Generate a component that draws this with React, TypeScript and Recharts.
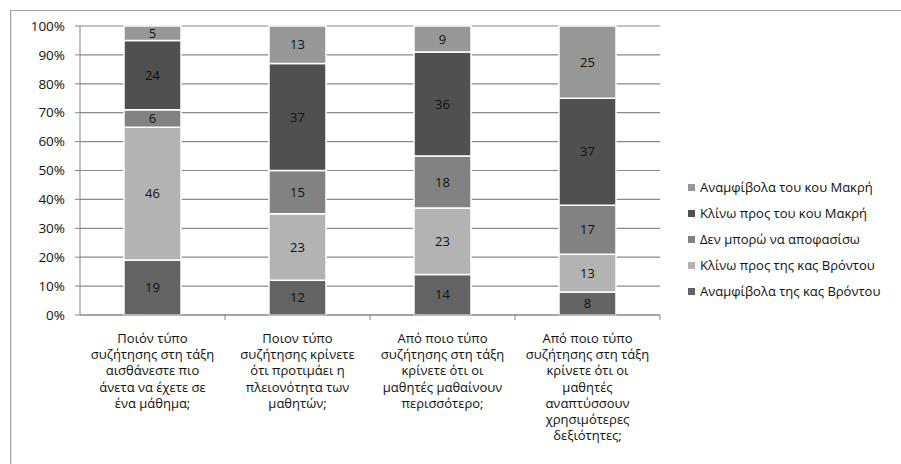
import React from 'react';
import { BarChart, Bar, XAxis, YAxis, CartesianGrid, Legend, LabelList } from 'recharts';

// question labels, already split into lines as in the source
const questions: string[][] = [
  ['Ποιόν τύπο', 'συζήτησης στη τάξη', 'αισθάνεστε πιο', 'άνετα να έχετε σε', 'ένα μάθημα;'],
  ['Ποιον τύπο', 'συζήτησης κρίνετε', 'ότι προτιμάει η', 'πλειονότητα των', 'μαθητών;'],
  ['Από ποιο τύπο', 'συζήτησης στη τάξη', 'κρίνετε ότι οι', 'μαθητές μαθαίνουν', 'περισσότερο;'],
  ['Από ποιο τύπο', 'συζήτησης στη τάξη', 'κρίνετε ότι οι', 'μαθητές', 'αναπτύσσουν', 'χρησιμότερες', 'δεξιότητες;'],
];

const seriesNames = [
  'Αναμφίβολα της κας Βρόντου',
  'Κλίνω προς της κας Βρόντου',
  'Δεν μπορώ να αποφασίσω',
  'Κλίνω προς του κου Μακρή',
  'Αναμφίβολα του κου Μακρή',
];
const seriesColors = ['#636363', '#b3b3b3', '#828282', '#505050', '#979797'];

const sureVrontou = [19, 12, 14, 8];
const leanVrontou = [46, 23, 23, 13];
const undecided = [6, 15, 18, 17];
const leanMakri = [24, 37, 36, 37];
const sureMakri = [5, 13, 9, 25];

const yTicks = [0, 0.1, 0.2, 0.3, 0.4, 0.5, 0.6, 0.7, 0.8, 0.9, 1];

const seriesValues = [sureVrontou, leanVrontou, undecided, leanMakri, sureMakri];
const data = questions.map((q, i) => {
  const row: Record<string, any> = { name: q.join(' '), idx: i };
  seriesValues.forEach((vals, s) => {
    row['s' + s] = vals[i];
  });
  return row;
});

const FONT = '"Open Sans", "Noto Sans", sans-serif';

const CategoryTick = (props: any) => {
  const { x, y, payload, index } = props;
  const lines = questions[index] || [];
  const half = payload?.offset ?? 0;
  return (
    <g>
      <line x1={x + half} y1={y - 8} x2={x + half} y2={y - 3} stroke="#868686" />
      {lines.map((l, k) => (
        <text
          key={k}
          x={x}
          y={y + 20 + k * 16.2}
          textAnchor="middle"
          fontSize={13}
          fill="#111"
          fontFamily={FONT}
        >
          {l}
        </text>
      ))}
    </g>
  );
};

const LegendList = () => (
  <div style={{ fontFamily: FONT, fontSize: 13, color: '#111' }}>
    {seriesNames
      .map((n, i) => ({ n, c: seriesColors[i] }))
      .reverse()
      .map((it) => (
        <div key={it.n} style={{ display: 'flex', alignItems: 'center', height: 26, whiteSpace: 'nowrap' }}>
          <span style={{ display: 'inline-block', width: 7, height: 7, background: it.c, marginRight: 5 }} />
          {it.n}
        </div>
      ))}
  </div>
);

export default function App() {
  return (
    <div style={{ position: 'absolute', left: 0, top: 0, width: 901, height: 464, background: '#fff' }}>
      <div
        style={{
          position: 'absolute',
          left: 10,
          top: 10,
          width: 900,
          height: 460,
          borderTop: '1px solid #a6a6a6',
          borderLeft: '1px solid #a6a6a6',
          boxShadow: 'inset 1px 0 0 #eeee90',
        }}
      />
      <BarChart
        width={901}
        height={464}
        data={data}
        stackOffset="expand"
        margin={{ top: 26, right: 241, bottom: 0, left: 10 }}
        style={{ position: 'absolute', left: 0, top: 0 }}
      >
        <CartesianGrid vertical={false} stroke="#8a8a8a" strokeWidth={1.2} />
        <XAxis
          dataKey="name"
          height={149}
          interval={0}
          stroke="#868686"
          tickLine={false}
          tick={<CategoryTick />}
        />
        <YAxis
          width={70}
          domain={[0, 1]}
          ticks={yTicks}
          tickFormatter={(v: number) => `${Math.round(v * 100)}%`}
          stroke="#868686"
          tickSize={5}
          tickMargin={10}
          tick={{ fill: '#111', fontSize: 13.5, fontFamily: FONT }}
        />
        <Legend
          layout="vertical"
          align="center"
          verticalAlign="middle"
          wrapperStyle={{ left: 688, top: 174, width: 210 }}
          content={<LegendList />}
        />
        {seriesNames.map((n, s) => (
          <Bar
            key={n}
            dataKey={'s' + s}
            name={n}
            stackId="a"
            fill={seriesColors[s]}
            stroke="#fff"
            strokeWidth={1.5}
            barSize={57}
            isAnimationActive={false}
          >
            <LabelList dataKey={'s' + s} position="center" fill="#111" fontSize={13} fontFamily={FONT} />
          </Bar>
        ))}
      </BarChart>
    </div>
  );
}
